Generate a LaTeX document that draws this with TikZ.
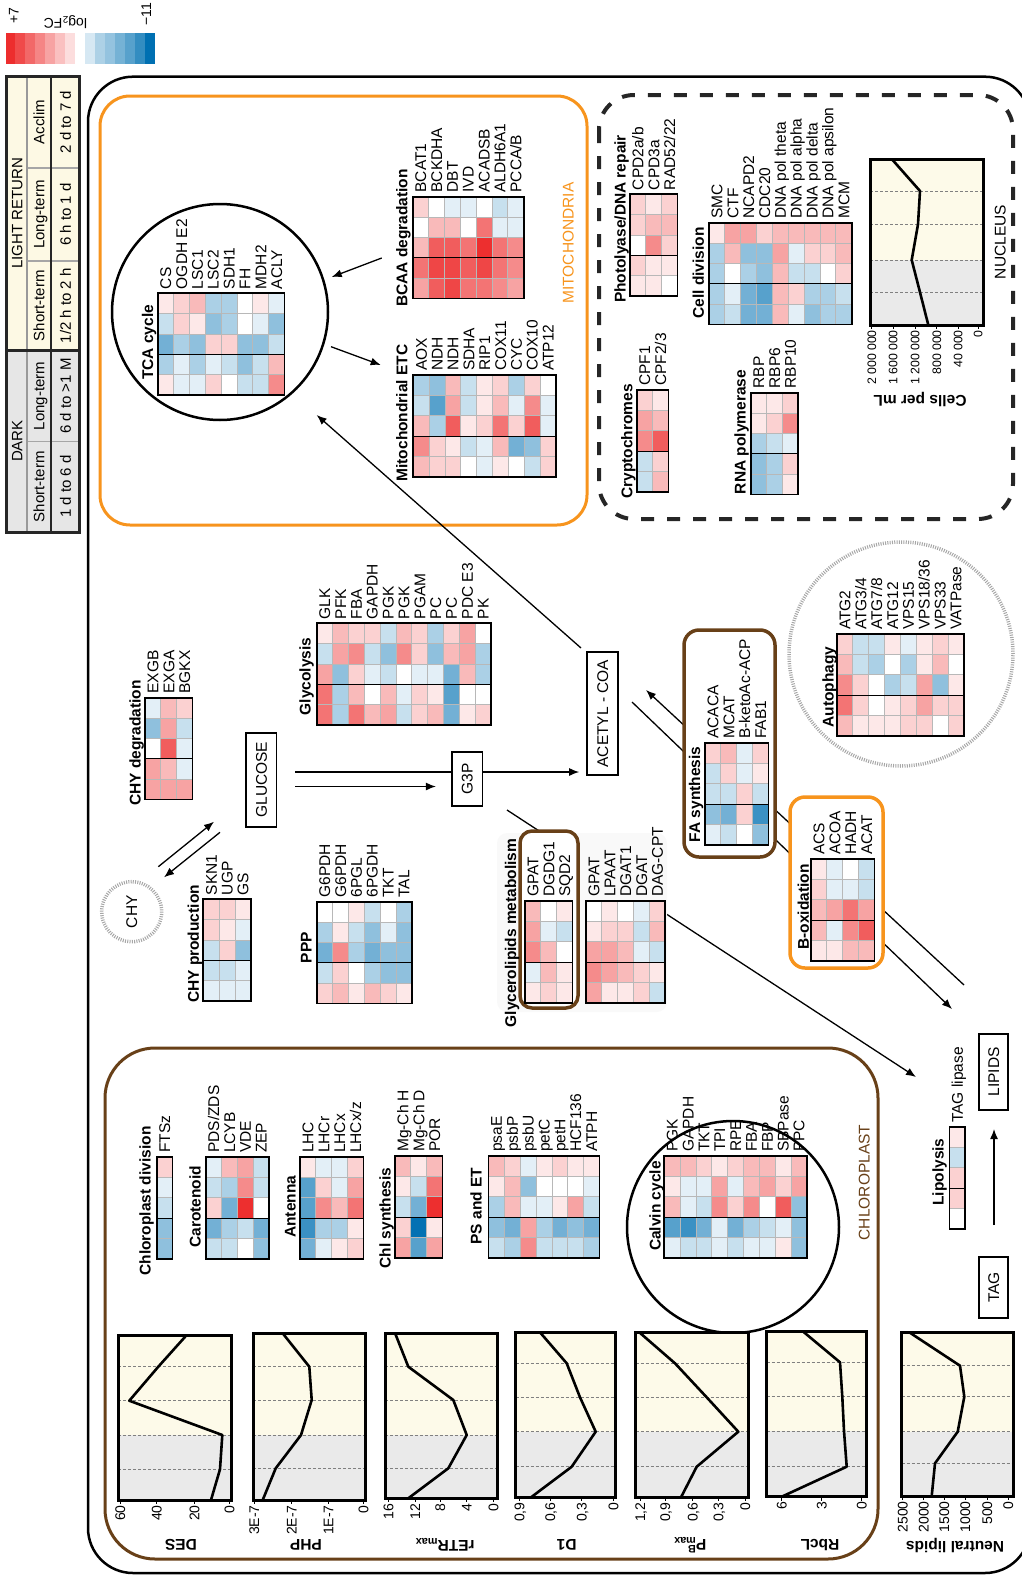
\documentclass[tikz,border=0pt]{standalone}
\usepackage{fontspec}
\setmainfont{Liberation Sans}
\usetikzlibrary{arrows.meta}
\definecolor{hr}{RGB}{237,45,45}
\definecolor{hb}{RGB}{0,112,178}
\definecolor{orng}{RGB}{247,148,29}
\definecolor{brwn}{RGB}{104,64,24}
\definecolor{chyel}{RGB}{253,250,233}
\definecolor{chgry}{RGB}{234,234,234}
\definecolor{lgy}{RGB}{253,249,228}
\definecolor{lgg}{RGB}{230,230,230}
\newcommand\hmcw{15.85}
\newcommand\hmch{20.35}
\newcommand\hmcell[5]{%
  \ifnum#5>0\relax\edef\hmc{hr!\the\numexpr(#5)*11\relax!white}%
  \else\ifnum#5<0\relax\edef\hmc{hb!\the\numexpr0-(#5)*11\relax!white}%
  \else\def\hmc{white}\fi\fi
  \fill[fill=\hmc] ({#1+(#3-1)*\hmcw},{#2+(#4-1)*\hmch}) rectangle ++(\hmcw,\hmch);%
}
\newcommand\hmap[5]{%
  \foreach \rowvals [count=\hrow] in {#5}{%
    \foreach \hv [count=\hcol] in \rowvals {\hmcell{#2}{#3}{\hcol}{\hrow}{\hv}}%
  }%
  \foreach \lab [count=\hcol] in {#4}{%
    \node[glab] (#1-\hcol) at ({#2+(\hcol-0.5)*\hmcw},{#3-4}) {\lab};%
    \xdef\hmn{\hcol}%
  }%
  \pgfmathsetmacro\hmw{\hmn*\hmcw}%
  \ifnum\hmn>1\relax
    \foreach \i in {2,...,\hmn}{\draw[hmgrid] ({#2+(\i-1)*\hmcw},#3) -- ++(0,{5*\hmch});}%
  \fi
  \foreach \j in {1,2,4}{\draw[hmgrid] (#2,{#3+\j*\hmch}) -- ++(\hmw,0);}%
  \draw[hmsep] (#2,{#3+3*\hmch}) -- ++(\hmw,0);%
  \draw[hmbord] (#2,#3) rectangle ++(\hmw,{5*\hmch});%
}
\newcommand\chartbox[7]{%
  \fill[chyel] (#1,#2) rectangle (#3,#5);
  \fill[chgry] (#1,#5) rectangle (#3,#4);
  \foreach \d in {#6}{\draw[chdash] (#1,\d) -- (#3,\d);}
  \draw[chcurve] plot coordinates {#7};
  \draw[chbord] (#1,#2) rectangle (#3,#4);
}
\newcommand\charticks[3]{%
  \foreach \tx/\tl [count=\k] in {#3}{%
    \draw[line width=1pt] (\tx,#2) -- ++(0,4);
    \node[tklab] (#1-\k) at (\tx,{#2+5}) {\tl};}%
}
\begin{document}
\begin{tikzpicture}[x=1pt,y=-1pt,
  glab/.style={rotate=90,anchor=west,inner sep=0pt,font=\fontsize{15.5}{15.5}\selectfont,text height=11.1pt,text depth=0pt},
  ttl/.style={rotate=90,inner sep=0pt,font=\bfseries\fontsize{15.5}{15.5}\selectfont,text height=11.1pt,text depth=0pt},
  hmgrid/.style={draw=black!28,line width=0.8pt},
  hmsep/.style={draw=black,line width=0.9pt},
  hmbord/.style={draw=black,line width=1.8pt},
  conn/.style={line width=1.3pt,-{Latex[length=10pt,width=8pt]}},
  pline/.style={line width=1.3pt},
  mbox/.style={draw,line width=1.6pt,rotate=90,inner sep=0pt,font=\fontsize{15.5}{15.5}\selectfont,text height=11.1pt,text depth=0pt,fill=white},
  tklab/.style={rotate=90,anchor=east,inner sep=0pt,font=\fontsize{14}{14}\selectfont,text height=10pt,text depth=0pt},
  ctitle/.style={rotate=180,inner sep=0pt,font=\bfseries\fontsize{15.5}{15.5}\selectfont},
  chdash/.style={draw=black!50,line width=0.7pt,dash pattern=on 3pt off 2pt},
  chcurve/.style={line width=2.6pt,line join=round},
  chbord/.style={line width=3pt},
  lgt/.style={rotate=90,inner sep=0pt,font=\fontsize{15}{15}\selectfont,text height=10.7pt,text depth=0pt},
  dotc/.style={draw=black!35,line width=3.5pt,dash pattern=on 1pt off 1.3pt},
  regl/.style={rotate=90,inner sep=0pt,font=\fontsize{15.5}{15.5}\selectfont,text height=11.1pt,text depth=0pt},
]
\useasboundingbox (0,0) rectangle (1021,1579);
% ---------- colour bar ----------
\foreach \col [count=\i] in {hr!100!white,hr!86!white,hr!72!white,hr!58!white,hr!44!white,hr!30!white,hr!16!white,white,hb!16!white,hb!32!white,hb!42!white,hb!54!white,hb!66!white,hb!80!white,hb!100!white}
  {\fill[fill=\col] ({5.5+(\i-1)*9.97},33) rectangle ++(9.97,31);}
\node[rotate=90,inner sep=0pt,font=\fontsize{14}{14}\selectfont] (cbmax) at (13.8,15.5) {+7};
\node[rotate=180,inner sep=0pt,font=\fontsize{14}{14}\selectfont] (cblab) at (65.4,22) {log\textsubscript{2}FC};
\node[rotate=90,inner sep=0pt,font=\fontsize{14}{14}\selectfont] (cbmin) at (146.4,14) {−11};
% ---------- legend table ----------
\fill[lgy] (6.9,76.4) rectangle (79.9,350.5);
\fill[lgg] (6.9,350.5) rectangle (79.9,532);
\foreach \yy in {168,261,441.5}{\draw[black!35,line width=1.5pt] (26.9,\yy) -- (79.9,\yy);}
\draw[black!40,line width=1.8pt] (26.9,76.4) -- (26.9,532);
\draw[black!85,line width=2.2pt] (51,76.4) -- (51,532);
\draw[black!85,line width=2.5pt] (6.9,350.5) -- (79.9,350.5);
\draw[black!85,line width=3pt] (6.9,76.4) rectangle (79.9,532);
\node[lgt] (lgDark) at (16.9,441) {DARK};
\node[lgt] (lgLight) at (16.9,213.5) {LIGHT RETURN};
\node[lgt] (lgS1) at (39,486.7) {Short-term};
\node[lgt] (lgL1) at (39,396) {Long-term};
\node[lgt] (lgS2) at (39,305.7) {Short-term};
\node[lgt] (lgL2) at (39,214.5) {Long-term};
\node[lgt] (lgA) at (39,122) {Acclim};
\node[lgt] (lgT1) at (65.5,486.7) {1 d to 6 d};
\node[lgt] (lgT2) at (65.5,396) {6 d to >1 M};
\node[lgt] (lgT3) at (65.5,305.7) {1/2 h to 2 h};
\node[lgt] (lgT4) at (65.5,214.5) {6 h to 1 d};
\node[lgt] (lgT5) at (65.5,122) {2 d to 7 d};
% ---------- compartments ----------
\draw[line width=2.5pt,rounded corners=45pt] (88,76.7) rectangle (1030,1573);
\draw[orng,line width=3pt,rounded corners=30pt] (100,96) rectangle (587,525);
\node[regl,text=orng] (mitolab) at (568,243) {MITOCHONDRIA};
\draw[black!85,line width=4pt,dash pattern=on 13pt off 13pt,rounded corners=35pt] (599,95) rectangle (1013,519);
\node[regl] (nuclab) at (1000,242) {NUCLEUS};
\draw[brwn,line width=3pt,rounded corners=50pt] (105,1048) rectangle (878,1559);
\node[regl,text=brwn] (chllab) at (864,1182.5) {CHLOROPLAST};
% ---------- long connectors drawn under boxes ----------
\coordinate (iS) at (507,810); \coordinate (iE) at (916,1077);
\draw[conn] (iS) -- (iE);
\coordinate (aS) at (964,985); \coordinate (aE) at (646,690);
\draw[conn] (aS) -- (aE);
\coordinate (bS) at (632,702); \coordinate (bE) at (952,1009);
\draw[conn] (bS) -- (bE);
% ---------- framed groups ----------
\fill[black!2.5,rounded corners=10pt] (497,833) rectangle (667,1012);
\draw[brwn,line width=3.5pt,fill=white,rounded corners=12pt] (520,831) rectangle (578,1008);
\draw[brwn,line width=3.5pt,fill=white,rounded corners=15pt] (684,630) rectangle (775,857);
\draw[orng,line width=3.5pt,fill=white,rounded corners=15pt] (790,797) rectangle (883,968);
% ---------- circles ----------
\node[circle,draw,line width=2.5pt,minimum size=216pt,inner sep=0pt] (tcacirc) at (220,312) {};
\node[circle,draw,line width=2.5pt,minimum size=212pt,inner sep=0pt] (calvcirc) at (733,1227) {};
\node[circle,dotc,minimum size=224pt,inner sep=0pt] (autocirc) at (901,654) {};
\node[circle,dotc,minimum size=60pt,inner sep=0pt,rotate=90,font=\fontsize{15.5}{15.5}\selectfont] (chy) at (131.7,911.7) {CHY};
% ---------- heat maps ----------
\hmap{tca}{157.7}{293.3}{CS,OGDH E2,LSC1,LSC2,SDH1,FH,MDH2,ACLY}
 {{1,2,3,-3,-3,0,1,-1},{-2,2,1,-4,-3,0,-1,-4},{-5,-3,-4,2,2,-4,-4,-2},{-3,-1,-3,-1,-2,-4,-2,3},{1,-1,-1,2,0,-2,-2,5}}
\hmap{bcaa}{412.7}{196.7}{BCAT1,BCKDHA,DBT,IVD,ACADSB,ALDH6A1,PCCA/B}
 {{2,0,-1,-1,0,-2,-1},{0,3,3,0,6,-1,-1},{3,7,7,6,9,6,5},{6,8,8,7,8,6,5},{4,7,8,6,6,5,4}}
\hmap{etc}{413.3}{375}{AOX,NDH,NDH,SDHA,RIP1,COX11,CYC,COX10,ATP12}
 {{-3,-4,3,-2,1,2,-3,2,0},{-2,-6,4,-2,1,3,-1,5,-1},{3,-3,7,1,2,6,2,7,-1},{5,2,1,-2,-1,3,-5,-4,2},{3,2,2,0,-1,1,0,-2,2}}
\hmap{photo}{630}{194.3}{CPD2a/b,CPD3a,RAD52/22}
 {{2,1,2},{2,3,3},{0,5,2},{2,1,1},{1,1,0}}
\hmap{crypto}{636.7}{390}{CPF1,CPF2/3}
 {{2,1},{4,3},{5,7},{-2,2},{-2,3}}
\hmap{celldiv}{709}{222.7}{SMC,CTF,NCAPD2,CDC20,DNA pol theta,DNA pol alpha,DNA pol delta,DNA pol apsilon,MCM}
 {{1,4,4,2,3,3,3,3,3},{-3,3,-4,-4,4,-1,2,2,3},{-3,0,-3,-4,3,-2,-2,0,2},{-3,-1,-5,-6,3,2,-3,-3,-2},{-3,-2,-5,-5,3,-1,-4,-3,-3}}
\hmap{rnapol}{750.7}{392.7}{RBP,RBP6,RBP10}
 {{1,1,2},{1,2,5},{-3,-2,-1},{-4,-3,2},{-4,-3,1}}
\hmap{chydeg}{145}{697.7}{EXGB,EXGA,BGKX}
 {{-1,3,2},{-4,4,-2},{0,7,-1},{4,3,-1},{4,4,4}}
\hmap{glyco}{316.7}{623.3}{GLK,PFK,FBA,GAPDH,PGK,PGK,PGAM,PC,PC,PDC E3,PK}
 {{1,3,2,2,-2,3,2,-3,2,4,0},{-2,4,5,-2,-4,5,2,-4,3,4,-3},{4,-4,2,-1,-2,0,-1,-1,-5,3,-3},{6,-3,3,0,3,-1,2,1,-6,0,0},{6,-3,6,3,4,-2,2,3,-5,1,2}}
\hmap{chyprod}{203.3}{899.3}{SKN1,UGP,GS}
 {{2,2,1},{2,1,-1},{-2,2,-4},{-2,-2,-1},{-1,-1,-1}}
\hmap{ppp}{316.7}{901.7}{G6PDH,G6PDH,6PGL,6PGDH,TKT,TAL}
 {{0,0,1,-2,0,-3},{-3,1,-2,-4,-1,-4},{-5,5,-3,-5,-4,-4},{-2,2,0,-3,-4,-4},{2,3,1,3,2,1}}
\hmap{glycA}{525}{901}{GPAT,DGDG1,SQD2}
 {{3,0,1},{4,-1,-2},{5,3,0},{-1,3,1},{1,2,1}}
\hmap{glycB}{586}{901}{GPAT,LPAAT,DGAT1,DGAT,DAG-CPT}
 {{0,1,0,-1,2},{1,2,2,-2,3},{4,4,3,-1,-2},{5,4,3,2,1},{4,1,1,2,-2}}
\hmap{fas}{705}{743}{ACACA,MCAT,B-ketoAc-ACP,FAB1}
 {{2,3,-1,2},{-2,2,-1,1},{-2,-2,2,-2},{-4,-5,2,-7},{-1,-2,0,-4}}
\hmap{auto}{837}{634}{ATG2,ATG3/4,ATG7/8,ATG12,VPS15,VPS18/36,VPS33,VATPase}
 {{2,-2,-2,1,-1,1,2,1},{3,-2,-3,0,-3,1,3,0},{5,2,0,-3,-2,4,-4,1},{6,2,0,1,2,4,2,2},{3,1,1,1,2,2,0,2}}
\hmap{boxid}{811}{859}{ACS,ACOA,HADH,ACAT}
 {{1,-1,0,-2},{2,-1,-1,-2},{3,4,6,4},{3,-1,5,7},{1,1,3,3}}
\hmap{cpdiv}{156.7}{1157}{FTSz}
 {{2},{-1},{-2},{-4},{-4}}
\hmap{carot}{205.7}{1157}{PDS/ZDS,LCYB,VDE,ZEP}
 {{-1,3,4,-2},{-2,-3,5,-2},{2,-5,9,0},{-5,-3,-2,-5},{-2,-2,0,-4}}
\hmap{ant}{300}{1157}{LHC,LHCr,LHCx,LHCx/z}
 {{1,-1,-1,2},{-6,2,-1,4},{-6,5,3,6},{-7,-3,-3,1},{-5,-1,1,2}}
\hmap{chl}{395}{1156}{Mg-Ch H,Mg-Ch D,POR}
 {{3,1,3},{1,-2,6},{-2,-5,9},{2,-9,1},{4,-6,4}}
\hmap{pset}{488.5}{1156}{psaE,psbP,psbU,petC,petH,HCF136,ATPH}
 {{3,2,-1,1,2,1,1},{1,3,-4,0,0,0,-1},{-3,3,-1,-1,1,4,-2},{-4,-5,4,-3,-5,-4,-5},{-2,-3,5,-2,-2,-2,-3}}
\hmap{calv}{664.2}{1156}{PGK,GAPDH,TKT,TPI,RPE,FBA,FBP,SBPase,PPC}
 {{3,3,2,1,2,3,3,1,3},{1,-1,-1,4,-1,3,4,2,4},{3,-1,-2,5,2,5,0,7,-4},{-6,-7,-5,-1,-5,-3,-2,-1,-4},{-1,-2,-2,-1,-2,-1,-1,1,-4}}
\hmap{lipo}{949.5}{1127}{TAG lipase}
 {{1},{-2},{2},{2},{0}}
% ---------- titles ----------
\node[ttl] (tcaT) at (147.5,342.5) {TCA cycle};
\node[ttl] (bcaaT) at (401.7,238) {BCAA degradation};
\node[ttl] (etcT) at (401.7,413) {Mitochondrial ETC};
\node[ttl] (photoT) at (620,219) {Photolyase/DNA repair};
\node[ttl] (cryptoT) at (626.7,441.5) {Cryptochromes};
\node[ttl] (celldivT) at (698.3,273) {Cell division};
\node[ttl] (rnapolT) at (740,432) {RNA polymerase};
\node[ttl] (chydegT) at (135,743) {CHY degradation};
\node[ttl] (glycoT) at (305,676.5) {Glycolysis};
\node[ttl] (chyprodT) at (193.3,944) {CHY production};
\node[ttl] (pppT) at (306,947.5) {PPP};
\node[ttl] (glycT) at (510.5,933) {Glycerolipids metabolism};
\node[ttl] (fasT) at (694.5,794.5) {FA synthesis};
\node[ttl] (autoT) at (828,687) {Autophagy};
\node[ttl] (boxT) at (803.4,907) {B-oxidation};
\node[ttl] (cpdivT) at (145,1201) {Chloroplast division};
\node[ttl] (carotT) at (195,1206.7) {Carotenoid};
\node[ttl] (antT) at (290,1206.7) {Antenna};
\node[ttl] (chlT) at (385,1218) {Chl synthesis};
\node[ttl] (psetT) at (476,1206) {PS and ET};
\node[ttl] (calvT) at (655,1206) {Calvin cycle};
\node[ttl] (lipoT) at (938,1172) {Lipolysis};
% ---------- metabolite boxes ----------
\node[mbox,minimum width=94pt,minimum height=30.7pt] (glucose) at (261.3,779.7) {GLUCOSE};
\node[mbox,minimum width=54.3pt,minimum height=30.8pt] (g3p) at (467.1,778.9) {G3P};
\node[mbox,minimum width=123pt,minimum height=31pt] (acoa) at (602.5,713.5) {ACETYL - COA};
\node[mbox,minimum width=76pt,minimum height=29pt] (lipids) at (993.5,1072) {LIPIDS};
\node[mbox,minimum width=61pt,minimum height=29pt] (tag) at (993.5,1287.5) {TAG};
% ---------- short connectors ----------
\coordinate (bcaaA) at (381.7,258); \coordinate (tcaA) at (331.7,277);
\draw[conn] (bcaaA) -- (tcaA);
\coordinate (tcaB) at (331,346.7); \coordinate (etcB) at (380.7,365);
\draw[conn] (tcaB) -- (etcB);
\coordinate (acoaC) at (581,648); \coordinate (tcaC) at (316.7,415);
\draw[conn] (acoaC) -- (tcaC);
\coordinate (chyD) at (158.3,866.7); \coordinate (gluD) at (214,821.7);
\draw[conn] (chyD) -- (gluD);
\coordinate (gluE) at (220,832.3); \coordinate (chyE) at (164,877.3);
\draw[conn] (gluE) -- (chyE);
\coordinate (gluF) at (295,772);
\draw[pline] (gluF) -- (gluF -| g3p.north);
\draw[conn,shorten >=7pt] (g3p.south |- gluF) -- (acoa.north |- gluF);
\coordinate (gluG) at (295,786.5);
\draw[conn,shorten >=15pt] (gluG) -- (gluG -| g3p.north);
\coordinate (tagL) at (994,1225); \coordinate (lipL) at (994,1129);
\draw[conn] (tagL) -- (lipL);
% ---------- line charts ----------
\chartbox{118.3}{1335}{231}{1500}{1435}{1366.7,1400.7,1435,1469.3}{(186.7,1335) (158.3,1366.7) (129.3,1400.7) (222.3,1435) (220,1469.3) (211,1500)}
\charticks{des}{1500}{120/60,156.7/40,194.3/20,229.3/0}
\chartbox{253.3}{1333.3}{365.7}{1500}{1435}{1366.7,1400,1435,1468.3}{(282.7,1333.3) (309.3,1366.7) (311.7,1400) (301,1435) (275.7,1468.3) (262.7,1500)}
\charticks{php}{1500}{254/3E-7,291.7/2E-7,328.3/1E-7,363.3/0}
\chartbox{385}{1333}{497.3}{1498.3}{1435}{1366.7,1400,1435,1468.3}{(395,1333) (408.3,1366.7) (453.3,1400) (466.7,1435) (448.3,1468.3) (408.3,1498.3)}
\charticks{etr}{1498.3}{388.3/16,415/12,440/8,466.7/4,493.3/0}
\chartbox{515.7}{1332.3}{615.7}{1497.3}{1431.7}{1363.3,1397.3,1431.7,1466.7}{(540,1332.3) (566.7,1363.3) (580,1397.3) (595.7,1431.7) (571.7,1466.7) (531,1497.3)}
\charticks{done}{1497.3}{519.3/0{,}9,550/0{,}6,581.7/0{,}3,613.3/0}
\chartbox{635.7}{1332.3}{748.3}{1497.3}{1431.7}{1363.3,1397.3,1431.7,1466.7}{(639.3,1332.3) (675,1363.3) (706.7,1397.3) (738.3,1431.7) (696.7,1466.7) (681,1497.3)}
\charticks{pbm}{1497.3}{640/1{,}2,665/0{,}9,692.7/0{,}6,718.3/0{,}3,745/0}
\chartbox{766.7}{1331.7}{866.7}{1496.7}{1431}{1362.3,1396.7,1431,1466.7}{(803.3,1331.7) (840,1362.3) (842.3,1396.7) (844,1431) (846.7,1466.7) (781.7,1496.7)}
\charticks{rbcl}{1496.7}{781.7/6,821.7/3,861.7/0}
\chartbox{901.7}{1332.3}{1013.3}{1496}{1431.7}{1365.7,1396.7,1431.7,1463.3}{(909.3,1332.3) (960,1365.7) (964.3,1396.7) (957.7,1431.7) (935,1463.3) (931.7,1496)}
\charticks{nlip}{1496}{902.5/2500,923.5/2000,944/1500,965/1000,987/500,1008/0}
\chartbox{870}{159}{983.3}{325}{260}{191,224.3,260,292.3}{(891.7,159) (920,191) (918,224.3) (911.7,260) (920,292.3) (928.3,325)}
\begin{scope}[tklab/.append style={font=\fontsize{12.3}{12.3}\selectfont,text height=8.8pt}]
\charticks{cells}{325}{871.7/2 000 000,893/1 600 000,915/1 200 000,936.7/800 000,958/40 000,978/0}
\end{scope}
\node[ctitle] (desT) at (181,1545) {DES};
\node[ctitle] (phpT) at (306,1545) {PHP};
\node[ctitle] (etrT) at (445,1545) {rETR\textsubscript{max}};
\node[ctitle] (d1T) at (566.7,1545) {D1};
\node[ctitle] (pbT) at (690,1545) {P\rlap{\textsuperscript{B}}\textsubscript{max}};
\node[ctitle] (rbclT) at (820,1545) {RbcL};
\node[ctitle] (nlipT) at (955,1545) {Neutral lipids};
\node[ctitle] (cellsT) at (920,400) {Cells per mL};
\end{tikzpicture}
\end{document}
